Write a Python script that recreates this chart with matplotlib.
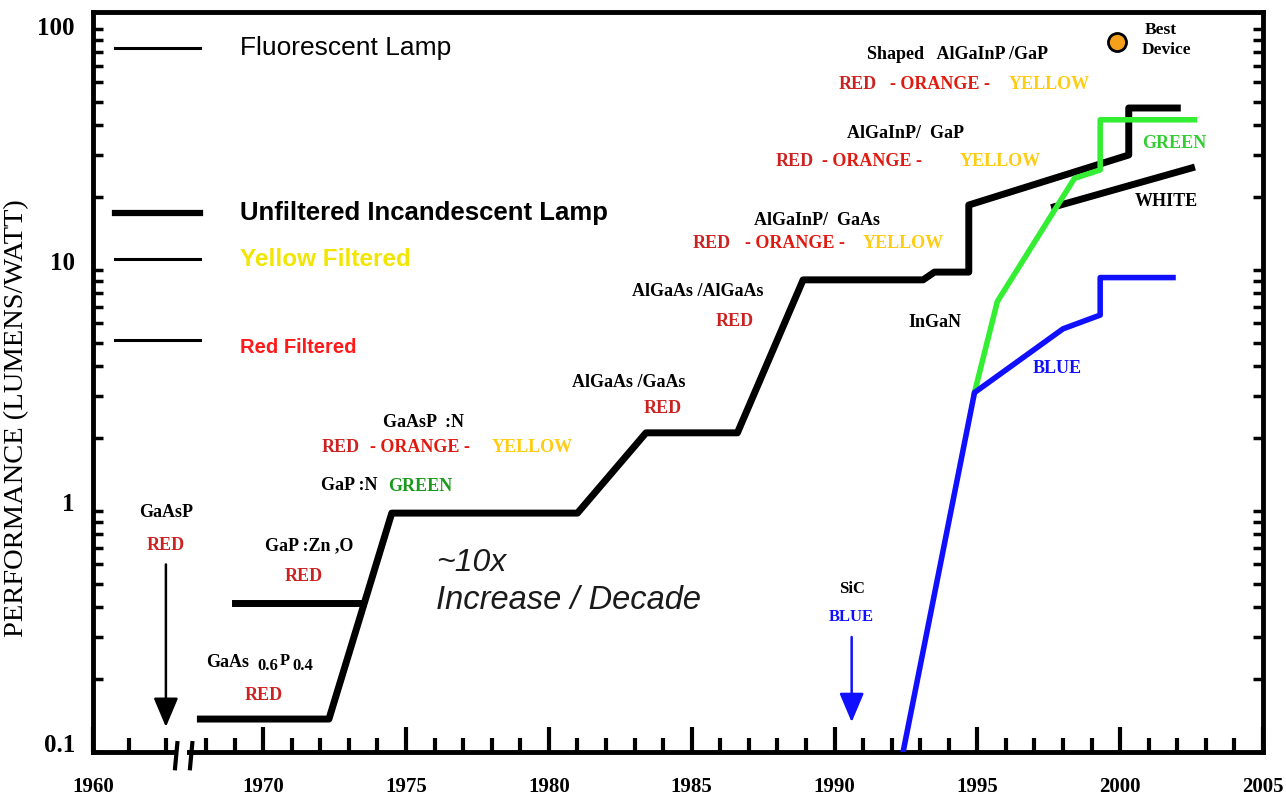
import numpy as np
import matplotlib
matplotlib.use("Agg")
import matplotlib.pyplot as plt
from matplotlib.ticker import LogLocator, NullFormatter
from matplotlib.patches import Rectangle

# LED performance history (lumens / watt)
main_year = [1967.8, 1972.3, 1974.5, 1981.0, 1983.4, 1986.6, 1988.9, 1993.1,
             1993.5, 1994.7, 1994.7, 2000.3, 2000.3, 2002.0]
main_perf = [0.137, 0.137, 0.98, 0.98, 2.11, 2.11, 9.1, 9.1,
             9.8, 9.8, 18.6, 30.0, 47.0, 47.0]

zno_year = [1969.0, 1973.5]
zno_perf = [0.415, 0.415]

green_year = [1994.9, 1995.7, 1998.4, 1999.3, 1999.3, 2002.6]
green_perf = [3.1, 7.4, 24.0, 26.0, 42.0, 42.0]

blue_year = [1992.4, 1994.9, 1998.0, 1999.3, 1999.3, 2001.85]
blue_perf = [0.1, 3.1, 5.7, 6.5, 9.3, 9.3]

white_year = [1997.7, 2002.5]
white_perf = [18.3, 26.5]

best_year = [1999.9]
best_perf = [88.0]

# reference lamps
lamp_names = ["Fluorescent Lamp", "Unfiltered Incandescent Lamp",
              "Yellow Filtered", "Red Filtered"]
lamp_perf = [83.0, 17.2, 11.1, 5.1]
lamp_span = [1960.6, 1967.8]

year_ticks = [1960, 1970, 1975, 1980, 1985, 1990, 1995, 2000, 2005]
year_minor = [1961, 1962, 1968, 1969] + [y for y in range(1971, 2005) if y % 5]
perf_ticks = [0.1, 1, 10, 100]
perf_labels = ["0.1", "1", "10", "100"]

SERIF = "Liberation Serif"
SANS = "Liberation Sans"
RED = "#cc2222"
ORANGE = "#e01a10"
YELLOW = "#ffcc11"

# broken x axis: 1960-62 squeezed on the left, then 1967 onwards
B0, B1, EPS, S = 1962.47, 1967.24, 0.01, 1.276
C = B1 - (B1 - B0) * EPS


def fwd(x):
    x = np.asarray(x, dtype=float)
    return np.where(x >= B1, x,
                    np.where(x >= B0, B1 - (B1 - x) * EPS, C - (B0 - x) * S))


def inv(t):
    t = np.asarray(t, dtype=float)
    return np.where(t >= B1, t,
                    np.where(t >= C, B1 - (B1 - t) / EPS, B0 - (C - t) / S))


fig = plt.figure(figsize=(12.86, 7.95), dpi=100)
ax = fig.add_axes([93 / 1286, 43 / 795, 1170 / 1286, 740 / 795])
ax.set_xscale("function", functions=(fwd, inv))
ax.set_yscale("log")
ax.set_xlim(1960, 2005)
ax.set_ylim(0.1, 117.6)

# curves
ax.plot(main_year, main_perf, color="black", lw=5, zorder=3)
ax.plot(zno_year, zno_perf, color="black", lw=5, zorder=3)
ax.plot(white_year, white_perf, color="black", lw=5, zorder=3)
ax.plot(green_year, green_perf, color="#33ee33", lw=4, zorder=4)
ax.plot(blue_year, blue_perf, color="#1010ff", lw=4, zorder=4)
ax.plot(best_year, best_perf, "o", ms=13, mfc="#f5a01a", mec="black",
        mew=2, zorder=5)

# lamp reference lines + labels
lamp_lw = [2.2, 4.5, 2.2, 2.2]
lamp_col = ["black", "black", "#f2e600", "#ff1a1a"]
lamp_wt = ["normal", "bold", "bold", "bold"]
lamp_fs = [19, 18.5, 17.5, 14.5]
lamp_dy = [0, 0, 0, -0.03]
for name, p, lw, c, wt, fs, dy in zip(lamp_names, lamp_perf, lamp_lw,
                                      lamp_col, lamp_wt, lamp_fs, lamp_dy):
    ax.plot(lamp_span, [p, p], color="black", lw=lw)
    ax.text(1969.2, p * 10 ** dy, name, color=c, fontfamily=SANS,
            fontweight=wt, fontsize=fs, ha="left", va="center")


def label(x, y, s, color="black", size=13, **kw):
    return ax.text(x, y, s, color=color, fontfamily=SERIF, fontweight="bold",
                   fontsize=size, ha="center", va="center", **kw)


def rgb_line(x_red, x_orange, x_yellow, y):
    label(x_red, y, "RED", RED)
    label(x_orange, y, "- ORANGE -", ORANGE)
    label(x_yellow, y, "YELLOW", YELLOW)


label(1962.0, 0.99, "GaAsP")
label(1962.0, 0.72, "RED", RED)
label(1971.6, 0.72, "GaP :Zn ,O")
label(1971.4, 0.537, "RED", RED)

# GaAs(0.6)P(0.4): composed piece by piece, subscripts nearly full size
ax.text(1969.5, 0.236, "GaAs", fontfamily=SERIF, fontweight="bold",
        fontsize=13, ha="right", va="center")
for s, dx, dy in [("0.6", 6, -3), ("P", 22, 1), ("0.4", 31, -3)]:
    ax.annotate(s, xy=(1969.5, 0.236), xytext=(dx, dy),
                textcoords="offset points", fontfamily=SERIF,
                fontweight="bold", fontsize=12, ha="left", va="center")
label(1970.0, 0.172, "RED", RED)

label(1975.6, 2.34, "GaAsP  :N")
rgb_line(1972.7, 1975.5, 1979.4, 1.84)
label(1973.0, 1.27, "GaP :N")
label(1975.5, 1.26, "GREEN", "#1a9a1a")

label(1982.8, 3.40, "AlGaAs /GaAs")
label(1984.0, 2.65, "RED", RED)
label(1985.2, 8.18, "AlGaAs /AlGaAs")
label(1986.5, 6.14, "RED", RED)

label(1989.4, 16.1, "AlGaInP/  GaAs")
rgb_line(1985.7, 1988.6, 1992.4, 12.9)
label(1992.5, 37.0, "AlGaInP/  GaP")
rgb_line(1988.6, 1991.3, 1995.8, 28.3)
label(1994.3, 78.0, "Shaped   AlGaInP /GaP")
rgb_line(1990.8, 1993.7, 1997.5, 59.1)

ax.text(2000.85, 99, "Best", fontfamily=SERIF, fontweight="bold",
        fontsize=12.5, ha="left", va="center")
ax.text(2000.75, 81.8, "Device", fontfamily=SERIF, fontweight="bold",
        fontsize=12.5, ha="left", va="center")
label(2001.9, 33.6, "GREEN", "#33cc33")
label(2001.6, 19.3, "WHITE")
label(1993.5, 6.03, "InGaN")
label(1997.8, 3.92, "BLUE", "#1010ff")
label(1990.6, 0.475, "SiC", size=12)
label(1990.6, 0.363, "BLUE", "#1010ff", size=12)

ax.text(1976.05, 0.61, "~10x", fontfamily=SANS, style="italic",
        fontsize=23, color="#1a1a1a", ha="left", va="center")
ax.text(1976.05, 0.427, "Increase / Decade", fontfamily=SANS, style="italic",
        fontsize=23.5, color="#1a1a1a", ha="left", va="center")

# arrows: first GaAsP red LED, SiC blue LED
head = "-|>,head_length=0.9,head_width=0.38"
ax.annotate("", xy=(1962.0, 0.127), xytext=(1962.0, 0.6),
            arrowprops=dict(arrowstyle=head, color="black", lw=1.8,
                            mutation_scale=20, shrinkA=0, shrinkB=0))
ax.annotate("", xy=(1990.6, 0.133), xytext=(1990.6, 0.30),
            arrowprops=dict(arrowstyle=head, color="#1010ff", lw=1.8,
                            mutation_scale=20, shrinkA=0, shrinkB=0))

# axes styling
for sp in ax.spines.values():
    sp.set_linewidth(3.5)

ax.set_xticks(year_ticks, [str(y) for y in year_ticks])
ax.set_xticks(year_minor, minor=True)
ax.xaxis.set_minor_formatter(NullFormatter())
ax.tick_params(axis="x", which="major", direction="in", length=18, width=3,
               pad=18, labelsize=15)
ax.tick_params(axis="x", which="minor", direction="in", length=10, width=3)
for t in ax.get_xticklabels():
    t.set_fontfamily(SERIF)
    t.set_fontweight("bold")

ax.set_yticks(perf_ticks, perf_labels)
ax.yaxis.set_minor_locator(LogLocator(base=10, subs=np.arange(2, 10), numticks=20))
ax.yaxis.set_minor_formatter(NullFormatter())
ax.tick_params(axis="y", which="both", direction="in", length=7, width=2.5,
               right=True, pad=13, labelsize=18)
for t in ax.get_yticklabels():
    t.set_fontfamily(SERIF)
    t.set_fontweight("bold")
    t.set_va("center" if t.get_text() == "100" else "baseline")

ax.set_ylabel("PERFORMANCE (LUMENS/WATT)", fontfamily=SERIF, fontsize=20.5)
ax.yaxis.set_label_coords(-0.055, 0.451)

# axis break marks
ax.add_patch(Rectangle((0.0725, -0.006), 0.0075, 0.012, transform=ax.transAxes,
                       facecolor="white", edgecolor="none", clip_on=False, zorder=6))
for xb in (0.0701, 0.0829):
    ax.plot([xb + 0.002, xb], [0.012, -0.022], transform=ax.transAxes,
            color="black", lw=3, clip_on=False, zorder=7)

fig.savefig("out.png", dpi=100)
